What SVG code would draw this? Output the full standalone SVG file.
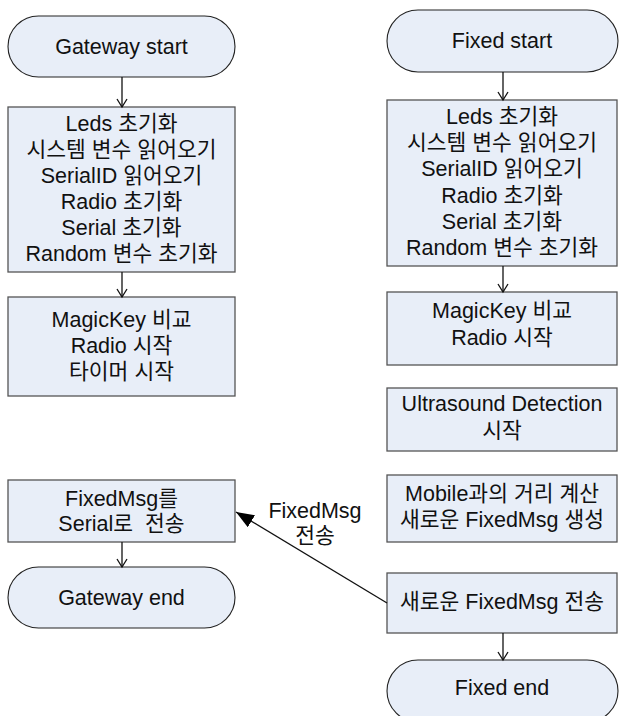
<svg xmlns="http://www.w3.org/2000/svg" width="620" height="716" viewBox="0 0 620 716">
<style>
.node{fill:#e8eef8;stroke:#555;stroke-width:1.3}
.term{fill:#e8eef8;stroke:#222;stroke-width:1.1}
text{font-family:"Liberation Sans","Noto Sans CJK KR",sans-serif;font-size:21.5px;fill:#111;text-anchor:middle}
.conn{stroke:#111;stroke-width:1.3;fill:none}
</style>
<defs>
<marker id="open" markerWidth="12" markerHeight="12" refX="10" refY="6" orient="auto" markerUnits="userSpaceOnUse">
<path d="M2,1 L10,6 L2,11" fill="none" stroke="#111" stroke-width="1.3"/>
</marker>
<marker id="solid" markerWidth="20" markerHeight="14" refX="18" refY="7" orient="auto" markerUnits="userSpaceOnUse">
<path d="M0,0 L18,7 L0,14 Z" fill="#000"/>
</marker>
</defs>
<g id="gateway-start">
<rect class="term" x="8" y="16" width="227" height="61" rx="30.5"/>
<text x="121.5" y="54">Gateway start</text>
</g>
<g id="gateway-init">
<rect class="node" x="8" y="107" width="227" height="165"/>
<text x="121.5" y="131">Leds 초기화</text>
<text x="121.5" y="157">시스템 변수 읽어오기</text>
<text x="121.5" y="183">SerialID 읽어오기</text>
<text x="121.5" y="209">Radio 초기화</text>
<text x="121.5" y="235">Serial 초기화</text>
<text x="121.5" y="261">Random 변수 초기화</text>
</g>
<g id="gateway-magic">
<rect class="node" x="8" y="297" width="227" height="99"/>
<text x="121.5" y="327">MagicKey 비교</text>
<text x="121.5" y="353">Radio 시작</text>
<text x="121.5" y="379">타이머 시작</text>
</g>
<g id="gateway-serial">
<rect class="node" x="8" y="480" width="227" height="62"/>
<text x="121.5" y="506">FixedMsg를</text>
<text x="121.5" y="531" xml:space="preserve">Serial로  전송</text>
</g>
<g id="gateway-end">
<rect class="term" x="8" y="567" width="227" height="61" rx="30.5"/>
<text x="121.5" y="605">Gateway end</text>
</g>
<g id="fixed-start">
<rect class="term" x="387" y="10" width="231" height="62" rx="31"/>
<text x="502" y="48">Fixed start</text>
</g>
<g id="fixed-init">
<rect class="node" x="387" y="100" width="230" height="166"/>
<text x="502" y="124">Leds 초기화</text>
<text x="502" y="150">시스템 변수 읽어오기</text>
<text x="502" y="176">SerialID 읽어오기</text>
<text x="502" y="203">Radio 초기화</text>
<text x="502" y="229">Serial 초기화</text>
<text x="502" y="255">Random 변수 초기화</text>
</g>
<g id="fixed-magic">
<rect class="node" x="387" y="292" width="230" height="73"/>
<text x="502" y="318">MagicKey 비교</text>
<text x="502" y="345">Radio 시작</text>
</g>
<g id="fixed-ultra">
<rect class="node" x="387" y="388" width="230" height="63"/>
<text x="502" y="411">Ultrasound Detection</text>
<text x="502" y="438">시작</text>
</g>
<g id="fixed-calc">
<rect class="node" x="387" y="475" width="230" height="67"/>
<text x="502" y="501">Mobile과의 거리 계산</text>
<text x="502" y="527">새로운 FixedMsg 생성</text>
</g>
<g id="fixed-send">
<rect class="node" x="387" y="573" width="230" height="60"/>
<text x="502" y="609">새로운 FixedMsg 전송</text>
</g>
<g id="fixed-end">
<rect class="term" x="387" y="660" width="231" height="62" rx="31"/>
<text x="502" y="695">Fixed end</text>
</g>
<g id="connectors">
<line class="conn" x1="122" y1="77" x2="122" y2="107" marker-end="url(#open)"/>
<line class="conn" x1="122" y1="272" x2="122" y2="297" marker-end="url(#open)"/>
<line class="conn" x1="122" y1="542" x2="122" y2="567" marker-end="url(#open)"/>
<line class="conn" x1="503" y1="72" x2="503" y2="100" marker-end="url(#open)"/>
<line class="conn" x1="503" y1="266" x2="503" y2="292" marker-end="url(#open)"/>
<line class="conn" x1="503" y1="633" x2="503" y2="660" marker-end="url(#open)"/>
<line class="conn" x1="387" y1="603" x2="236" y2="512" marker-end="url(#solid)"/>
<text x="315" y="518">FixedMsg</text>
<text x="315" y="543">전송</text>
</g>
</svg>
